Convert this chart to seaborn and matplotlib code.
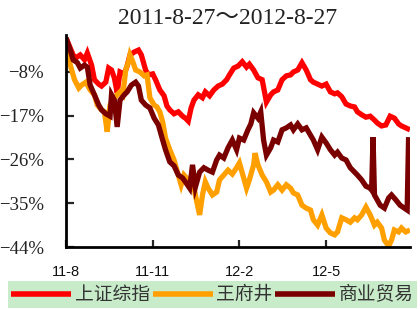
import matplotlib
matplotlib.use("Agg")
import matplotlib.pyplot as plt
import seaborn as sns
import pandas as pd

# ---- data (trading-day index, cumulative change %) ----
sz_days = [0, 3, 5, 7, 10, 13, 15, 18, 20, 23, 25, 28, 30, 32, 34, 36, 38, 41, 43, 45, 48, 51, 53, 56, 58,
           61, 63, 66, 69, 71, 73, 76, 79, 82, 84, 86, 88, 90, 93, 96, 98, 101, 104, 107, 110, 113, 115, 118,
           121, 124, 127, 129, 132, 135, 138, 141, 144, 146, 149, 152, 155, 158, 160, 163, 166, 169, 172, 174,
           177, 180, 183, 186, 189, 191, 194, 197, 200, 203, 205, 208, 211, 214, 217, 219, 222, 225, 228, 231,
           234, 236, 239, 242]
sz_vals = [-1.0, -3.1, -4.5, -5.1, -4.5, -5.5, -4.1, -6.6, -9.6, -10.5, -10.9, -10.1, -7.2, -7.6, -9.2, -12.3,
           -8.0, -8.4, -6.8, -4.5, -3.9, -3.5, -4.5, -7.6, -8.6, -8.4, -9.6, -11.7, -12.9, -15.0, -15.8, -16.6,
           -16.2, -17.1, -17.5, -18.1, -15.4, -13.8, -12.7, -13.3, -12.1, -12.9, -11.7, -10.9, -10.5, -9.6, -8.6,
           -7.2, -6.8, -5.9, -7.0, -6.4, -7.6, -9.2, -9.6, -14.2, -12.7, -12.1, -11.7, -9.6, -8.8, -8.6, -8.0,
           -7.6, -6.1, -7.6, -9.6, -10.1, -10.5, -10.9, -10.5, -12.1, -12.5, -12.3, -13.1, -14.6, -15.0, -15.2,
           -16.2, -16.8, -17.3, -17.1, -17.9, -18.5, -19.1, -18.9, -17.1, -17.5, -18.7, -19.1, -19.5, -19.9]

wfj_days = [0, 2, 4, 6, 9, 11, 14, 17, 20, 22, 25, 27, 29, 31, 33, 36, 38, 40, 42, 44, 45, 47, 49, 52, 55, 57,
            59, 62, 64, 66, 68, 70, 73, 76, 79, 81, 83, 86, 89, 91, 94, 96, 98, 100, 103, 106, 108, 111, 114,
            117, 120, 122, 125, 127, 129, 132, 133, 135, 138, 141, 144, 146, 149, 152, 155, 158, 160, 163, 166,
            169, 172, 174, 177, 180, 183, 186, 189, 191, 194, 197, 200, 203, 205, 208, 211, 214, 217, 219, 222,
            224, 227, 229, 231, 234, 236, 239, 242]
wfj_vals = [-1.0, -5.5, -7.6, -9.6, -11.3, -10.7, -10.1, -11.7, -12.7, -14.8, -15.8, -16.2, -20.3, -14.8, -13.8,
            -12.7, -12.1, -12.7, -7.6, -5.9, -4.5, -5.9, -7.6, -8.0, -8.8, -8.6, -13.3, -14.8, -15.2, -16.2,
            -18.3, -21.6, -24.0, -26.1, -29.2, -31.2, -29.2, -30.2, -29.8, -33.3, -37.4, -33.3, -30.6, -31.9,
            -33.3, -32.7, -30.2, -29.2, -28.2, -29.0, -27.7, -26.7, -29.8, -31.9, -30.2, -27.1, -24.7, -27.1,
            -29.2, -30.6, -32.7, -32.3, -31.2, -32.3, -31.2, -31.9, -32.9, -33.3, -35.4, -36.0, -36.4, -38.4,
            -39.5, -37.4, -40.1, -41.1, -41.5, -40.9, -38.0, -38.4, -38.9, -38.0, -38.4, -37.4, -35.8, -37.4,
            -39.5, -38.9, -40.1, -42.6, -43.8, -42.6, -40.5, -40.9, -40.1, -40.9, -40.5]

sy_days = [0, 3, 5, 8, 10, 13, 15, 17, 20, 23, 25, 28, 31, 32, 34, 36, 38, 41, 43, 46, 49, 51, 53, 56, 59, 62,
           65, 68, 70, 73, 76, 79, 82, 84, 87, 89, 91, 94, 97, 100, 103, 106, 108, 111, 114, 117, 120, 122, 125,
           128, 130, 132, 135, 137, 139, 141, 144, 146, 149, 152, 155, 158, 160, 163, 166, 169, 172, 174, 177,
           180, 183, 186, 189, 191, 194, 197, 200, 203, 205, 208, 211, 214, 215, 216, 217, 221, 224, 227, 229,
           232, 235, 238, 240, 241]
sy_vals = [-1.0, -3.5, -5.5, -6.1, -7.2, -6.6, -7.0, -10.7, -12.7, -14.8, -15.8, -16.6, -17.1, -12.7, -13.8,
           -19.3, -13.8, -12.7, -12.1, -10.7, -10.1, -10.9, -13.8, -14.8, -15.4, -17.5, -18.9, -22.0, -24.0,
           -26.5, -27.3, -29.2, -29.8, -30.6, -31.9, -27.1, -31.7, -28.6, -27.7, -28.2, -28.6, -26.1, -25.1,
           -25.7, -23.6, -22.0, -24.0, -21.6, -22.0, -19.9, -18.7, -16.4, -17.5, -16.2, -22.0, -25.1, -23.6,
           -22.0, -22.4, -19.9, -19.5, -18.9, -19.9, -18.7, -19.9, -19.5, -21.0, -22.0, -24.0, -21.4, -22.6,
           -24.0, -25.1, -24.5, -25.7, -26.1, -27.7, -28.6, -29.2, -30.2, -31.5, -31.9, -32.3, -21.4, -33.3,
           -35.4, -36.0, -33.9, -33.3, -34.3, -35.4, -36.0, -36.4, -21.4]

series_names = ["上证综指", "王府井", "商业贸易"]
series_colors = ["#ff0000", "#ffa000", "#7a0000"]
x_tick_pos = [0, 61, 122, 183]
x_tick_labels = ["11-8", "11-11", "12-2", "12-5"]
y_ticks = [-44, -35, -26, -17, -8]
title_text = "2011-8-27～2012-8-27"

df = pd.concat([
    pd.DataFrame({"day": sz_days, "pct": sz_vals, "series": series_names[0]}),
    pd.DataFrame({"day": wfj_days, "pct": wfj_vals, "series": series_names[1]}),
    pd.DataFrame({"day": sy_days, "pct": sy_vals, "series": series_names[2]}),
], ignore_index=True)

sns.set_theme(style="white")
plt.rcParams["font.family"] = ["Noto Sans CJK SC", "DejaVu Sans"]

fig = plt.figure(figsize=(4.2, 3.09), dpi=100)
ax = fig.add_axes([66 / 420, 1 - 247 / 309, 344 / 420, 212 / 309])

sns.lineplot(data=df, x="day", y="pct", hue="series", hue_order=series_names,
             palette=series_colors, linewidth=3.8, ax=ax, legend=False, sort=True,
             estimator=None)
for ln in ax.get_lines():
    ln.set_solid_joinstyle("miter")
    ln.set_solid_capstyle("butt")

ax.set_xlim(0, 242)
ax.set_ylim(-44, -0.4)
ax.set_xlabel("")
ax.set_ylabel("")
ax.set_xticks(x_tick_pos)
ax.set_xticklabels(x_tick_labels, family=["Liberation Sans"], fontsize=10.5, color="#111111")
ax.set_yticks(y_ticks)
ax.set_yticklabels([f"\u2212{abs(v)}%" for v in y_ticks], family=["Liberation Serif"],
                   fontsize=13.5, color="#222222")
for s in ["top", "right"]:
    ax.spines[s].set_visible(False)
for s in ["left", "bottom"]:
    ax.spines[s].set_color("black")
    ax.spines[s].set_linewidth(2)
ax.tick_params(axis="y", direction="in", length=6, width=1.6, pad=16, left=True)
ax.tick_params(axis="x", direction="in", length=5, width=1.6, pad=13, bottom=True)
ax.grid(False)

fig.text(228 / 420, 1 - 19 / 309, title_text, ha="center", va="center",
         family=["Liberation Serif", "Noto Sans CJK SC"], fontsize=17, color="#222222")

handles = [plt.Line2D([], [], color=c, linewidth=4, solid_capstyle="butt") for c in series_colors]
leg = fig.legend(handles, series_names, loc="lower left",
                 bbox_to_anchor=(8 / 420, 1 / 309, 409 / 420, 27 / 309), mode="expand",
                 ncol=3, frameon=True, fancybox=False, facecolor="#c8ecc9", edgecolor="none",
                 framealpha=1, fontsize=13.5, handlelength=3.2, handletextpad=0.2,
                 borderpad=0.15, borderaxespad=0, columnspacing=0.5)
for t in leg.get_texts():
    t.set_color("#333333")

fig.savefig("out.png", dpi=100)
